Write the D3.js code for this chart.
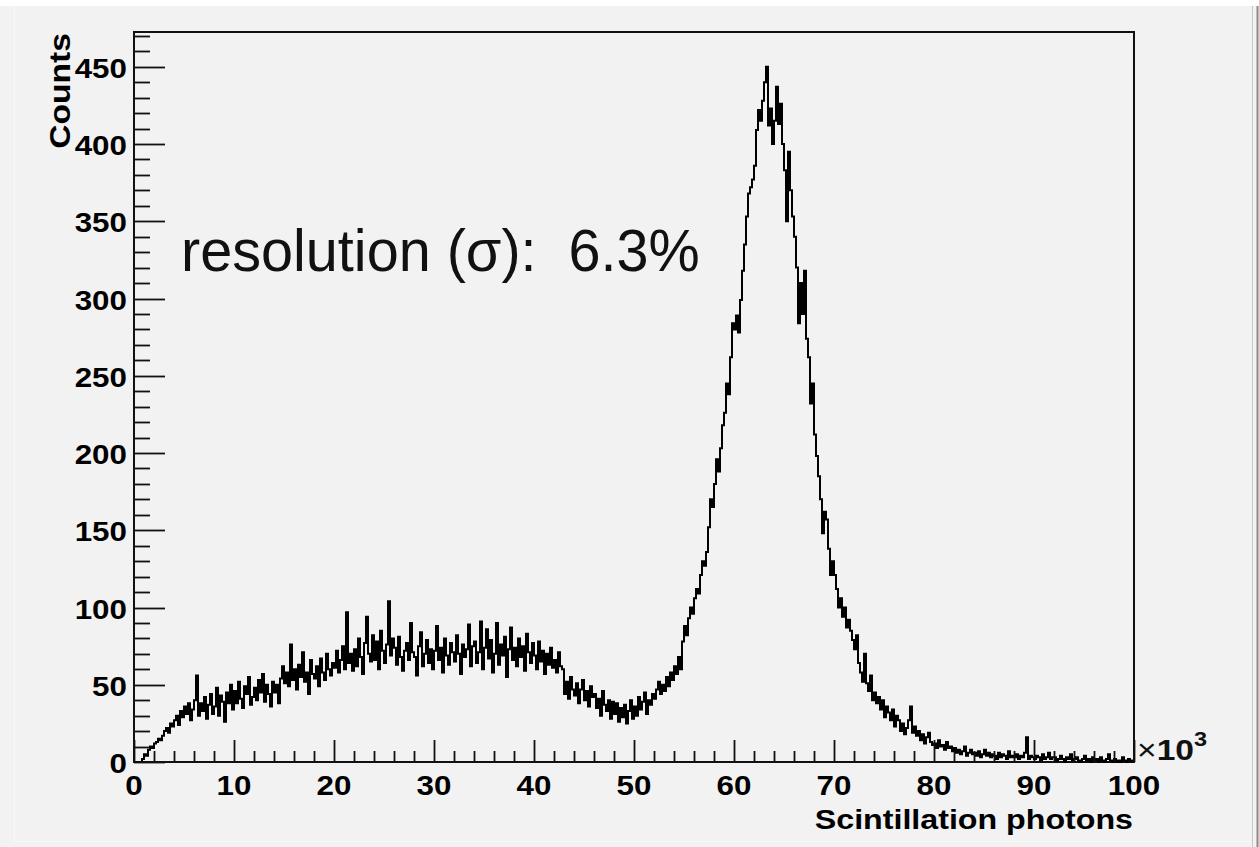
<!DOCTYPE html>
<html>
<head>
<meta charset="utf-8">
<script src="https://cdn.jsdelivr.net/npm/d3@7"></script>
<style>
  html, body { margin: 0; padding: 0; background: #ffffff; }
  svg { display: block; }
  text { white-space: pre; }
</style>
</head>
<body>
<svg id="chart" width="1259" height="847"></svg>
<script>
// ---------------- DATA ----------------
const xRange = [0, 100000];          // Scintillation photons
const yRange = [0, 472.5];           // Counts (ROOT: 1.05 * max)
const binWidth = 200;                // photons per bin
const counts = [
  0,0,0,0,2,5,4,8,10,9,
  12,13,15,14,17,20,22,19,25,23,
  27,30,24,33,29,36,31,38,27,34,
  40,56,30,38,33,42,28,37,44,31,
  36,48,30,43,39,26,45,38,50,34,
  46,38,52,41,35,49,44,55,37,42,
  48,40,53,45,57,39,50,44,36,52,
  45,50,38,54,62,51,58,49,76,53,
  60,47,63,55,71,52,58,44,66,57,
  54,62,49,67,58,53,70,60,56,64,
  61,72,58,66,75,60,97,64,70,59,
  73,62,80,68,57,77,94,70,65,82,
  66,78,60,85,72,64,76,104,69,80,
  74,63,81,68,59,72,77,66,90,71,
  68,56,75,84,62,70,79,64,73,60,
  72,88,66,74,58,80,69,63,77,71,
  65,82,70,57,76,68,73,89,62,75,
  78,64,71,91,60,74,86,67,79,58,
  70,90,63,76,69,81,55,73,87,66,
  74,62,80,68,75,59,83,71,64,77,
  69,60,78,65,72,57,70,63,74,61,
  66,58,71,62,60,44,52,41,55,47,
  43,51,38,47,53,40,46,36,49,42,
  44,35,41,30,46,37,33,40,28,39,
  31,38,26,35,29,37,25,33,40,28,
  36,30,42,34,39,45,31,40,37,44,
  41,47,52,44,50,46,55,49,58,53,
  62,57,68,60,78,88,82,93,100,96,
  106,112,109,121,130,127,136,152,170,165,
  180,196,188,203,218,226,245,238,262,284,
  280,289,278,299,318,335,353,368,372,377,
  386,409,422,415,428,440,450,412,423,400,
  415,437,413,426,400,383,350,395,370,353,
  340,320,284,310,290,318,274,262,232,245,
  212,198,185,170,148,162,157,138,121,130,
  121,112,100,106,94,100,87,92,85,79,
  73,82,64,58,52,70,51,46,56,40,
  45,38,42,34,40,29,36,32,27,34,
  23,30,27,20,25,18,22,27,36,19,
  23,17,20,14,18,12,16,19,13,11,
  12,9,14,10,11,8,13,9,10,7,
  9,6,8,5,7,10,4,6,8,5,
  6,4,7,3,5,8,4,6,3,5,
  4,2,6,3,5,4,2,7,3,4,
  3,5,2,4,3,6,16,2,4,3,
  2,4,3,1,5,2,3,6,2,3,
  3,1,2,4,2,0,3,2,5,1,
  2,3,1,0,2,4,1,2,0,3,
  1,2,0,3,1,0,2,5,1,0,
  2,0,1,0,3,1,0,2,1,0
];
const xMajorTicks = [0,10000,20000,30000,40000,50000,60000,70000,80000,90000,100000];
const xMajorLabels = ["0","10","20","30","40","50","60","70","80","90","100"];
const xMinorStep = 2000;
const yMajorTicks = [0,50,100,150,200,250,300,350,400,450];
const yMajorLabels = ["0","50","100","150","200","250","300","350","400","450"];
const yMinorStep = 10;
const xTitle = "Scintillation photons";
const yTitle = "Counts";
const annotation = "resolution (σ):  6.3%";

// ---------------- LAYOUT ----------------
const W = 1259, H = 847;
const frame = {left: 134, right: 1134, top: 32, bottom: 762};
const svg = d3.select("#chart");

// canvas background
svg.append("rect").attr("x",0).attr("y",0).attr("width",W).attr("height",H).attr("fill","#ffffff");
svg.append("rect").attr("x",0).attr("y",6).attr("width",W).attr("height",H-6).attr("fill","#f2f2f2");
svg.append("line").attr("x1",14.5).attr("x2",14.5).attr("y1",6).attr("y2",841).attr("stroke","#f8f8f8").attr("stroke-width",1);
svg.append("line").attr("x1",14).attr("x2",1250).attr("y1",841.5).attr("y2",841.5).attr("stroke","#f8f8f8").attr("stroke-width",1);
svg.append("line").attr("x1",1252.5).attr("x2",1252.5).attr("y1",6).attr("y2",H).attr("stroke","#c8c8c8").attr("stroke-width",1);
svg.append("line").attr("x1",1257.5).attr("x2",1257.5).attr("y1",6).attr("y2",H).attr("stroke","#8a8a8a").attr("stroke-width",2);

const x = d3.scaleLinear().domain(xRange).range([frame.left, frame.right]);
const y = d3.scaleLinear().domain(yRange).range([frame.bottom, frame.top]);

// frame
svg.append("rect")
  .attr("x", frame.left).attr("y", frame.top)
  .attr("width", frame.right - frame.left).attr("height", frame.bottom - frame.top)
  .attr("fill", "#f2f2f2").attr("stroke", "#111").attr("stroke-width", 2);

// histogram (step outline)
const pts = counts.map((c, i) => [xRange[0] + i * binWidth, c]);
pts.push([xRange[0] + counts.length * binWidth, counts[counts.length - 1]]);
const line = d3.line().x(d => x(d[0])).y(d => y(d[1])).curve(d3.curveStepAfter);
svg.append("path").attr("d", line(pts)).attr("fill","none").attr("stroke","#000")
  .attr("stroke-width",2).attr("stroke-linejoin","miter");

// y axis ticks
const yMinor = d3.range(yRange[0], yRange[1], yMinorStep);
svg.append("g").selectAll("line").data(yMinor).join("line")
  .attr("x1", frame.left).attr("x2", d => frame.left + (d % 50 === 0 ? 31 : 16))
  .attr("y1", d => Math.round(y(d)) + 0.5).attr("y2", d => Math.round(y(d)) + 0.5)
  .attr("stroke", "#111").attr("stroke-width", 1.8);

// x axis ticks
const xMinor = d3.range(xRange[0], xRange[1] + 1, xMinorStep);
svg.append("g").selectAll("line").data(xMinor).join("line")
  .attr("x1", d => Math.round(x(d)) + 0.5).attr("x2", d => Math.round(x(d)) + 0.5)
  .attr("y1", frame.bottom).attr("y2", d => frame.bottom - (d % 10000 === 0 ? 22 : 11))
  .attr("stroke", "#111").attr("stroke-width", 1.8);

const SX = 1.12;
const labelFont = "'Liberation Sans', Arial, Helvetica, sans-serif";

// y tick labels
svg.append("g").selectAll("text").data(yMajorTicks).join("text")
  .attr("transform", d => `translate(127,${y(d) + 11}) scale(${SX},1)`)
  .attr("text-anchor", "end")
  .attr("font-family", labelFont).attr("font-weight", "bold").attr("font-size", 28)
  .attr("fill", "#000")
  .text((d, i) => yMajorLabels[i]);

// x tick labels
svg.append("g").selectAll("text").data(xMajorTicks).join("text")
  .attr("transform", d => `translate(${x(d)},795) scale(${SX},1)`)
  .attr("text-anchor", "middle")
  .attr("font-family", labelFont).attr("font-weight", "bold").attr("font-size", 28)
  .attr("fill", "#000")
  .text((d, i) => xMajorLabels[i]);

// x10^3
const exp = svg.append("text")
  .attr("transform", `translate(1137,760) scale(${SX},1)`)
  .attr("font-family", labelFont).attr("font-size", 30).attr("fill", "#111");
exp.append("tspan").attr("font-weight", "normal").text("×");
exp.append("tspan").attr("font-weight", "bold").text("10");
exp.append("tspan").attr("font-weight", "bold").attr("font-size", 21).attr("dy", -14).text("3");

// axis titles
svg.append("text")
  .attr("transform", `translate(1133,829) scale(1.15,1)`)
  .attr("text-anchor", "end")
  .attr("font-family", labelFont).attr("font-weight", "bold").attr("font-size", 28)
  .attr("fill", "#000").text(xTitle);

svg.append("text")
  .attr("transform", `translate(70,33) rotate(-90) scale(${SX},1)`)
  .attr("text-anchor", "end")
  .attr("font-family", labelFont).attr("font-weight", "bold").attr("font-size", 30)
  .attr("fill", "#000").text(yTitle);

// annotation
svg.append("text")
  .attr("transform", `translate(181,271) scale(0.96,1)`)
  .attr("xml:space", "preserve")
  .attr("font-family", labelFont).attr("font-size", 60)
  .attr("fill", "#111").text(annotation);
</script>
</body>
</html>
